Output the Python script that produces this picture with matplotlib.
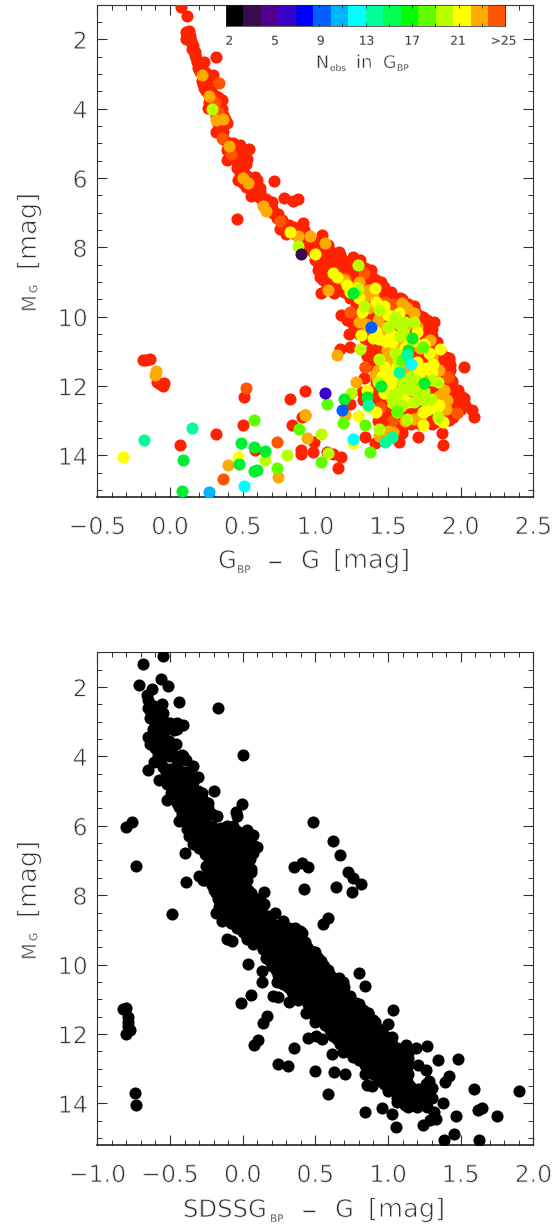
import numpy as np
import matplotlib
matplotlib.use('Agg')
import matplotlib.pyplot as plt
import matplotlib.patheffects as pe
from matplotlib.colors import ListedColormap
from matplotlib.ticker import MultipleLocator

W, H = 554, 1225
INK = '#303030'

# colour bins of the Nobs scale
bar_colors = ['#000000', '#3a0a50', '#50008c', '#3a00c8', '#0000ff', '#0060ff', '#00b4ff', '#00ffff',
              '#00ff9a', '#00ff50', '#00ff00', '#60ff00', '#b8ff00', '#ffff00', '#ffaa00', '#ff5500']
bar_labels = ['2', '5', '9', '13', '17', '21', '>25']
color_red = '#ff2200'

# top panel: GBP-G, MG per colour group
red_upper = [(.076, 1.08), (.115, 1.32), (.112, 1.78), (.138, 1.90), (.11, 2.0), (.154, 2.12), (.149, 2.29), (.172, 2.45),
             (.188, 2.64), (.234, 2.66), (.314, 2.50), (.195, 2.84), (.294, 3.03), (.229, 3.13), (.252, 3.27), (.234, 3.41),
             (.264, 3.56), (.356, 3.75), (.344, 3.94), (.264, 3.99), (.31, 3.75), (.367, 4.18), (.344, 4.33), (.39, 4.42),
             (.32, 4.66), (.367, 4.66), (.367, 4.86), (.436, 5.0), (.482, 5.05), (.544, 5.17), (.39, 5.19), (.424, 5.24),
             (.482, 5.34), (.39, 5.48), (.447, 5.48), (.528, 5.46), (.459, 5.72), (.493, 5.77), (.585, 5.96), (.47, 6.06),
             (.716, 6.08), (.505, 6.15), (.596, 6.2), (.55, 6.3), (.619, 6.39), (.555, 6.51), (.784, 6.57), (.849, 6.66),
             (.883, 6.6), (.7, 6.68), (.642, 6.73), (.711, 7.02), (.459, 7.18), (.734, 7.16), (.768, 7.21), (.913, 7.31),
             (.849, 7.4), (.757, 7.48), (.803, 7.55), (.86, 7.6), (1.044, 7.64), (.963, 7.74), (.894, 7.79), (1.09, 7.93),
             (.929, 7.98), (1.01, 7.98), (1.165, 8.14), (.52, 5.6), (.43, 5.1), (.58, 6.1), (.66, 6.85), (.79, 7.4)]
red_upper_fill = [(.13, 1.75), (.12, 1.9), (.145, 2.05), (.16, 2.2), (.17, 2.35), (.18, 2.55), (.2, 2.7), (.21, 2.95), (.24, 2.95),
                  (.22, 3.2), (.25, 3.1), (.26, 3.35), (.23, 3.3), (.25, 3.5), (.28, 3.4), (.3, 3.6), (.27, 3.8), (.33, 3.65),
                  (.34, 3.8), (.3, 3.95), (.32, 4.2), (.36, 4.0), (.33, 4.45), (.38, 4.3), (.36, 4.5), (.39, 4.95), (.41, 5.15),
                  (.44, 5.4), (.47, 5.25), (.5, 5.15), (.5, 5.4), (.47, 5.55), (.48, 5.9), (.51, 5.85), (.53, 5.95), (.52, 6.25),
                  (.57, 6.15), (.6, 6.05), (.58, 6.45), (.61, 6.55), (.62, 6.3), (.66, 6.6), (.68, 6.9), (.7, 6.85), (.72, 7.0),
                  (.74, 7.05), (.77, 7.4), (.82, 7.35), (.8, 7.6), (.84, 7.5), (.88, 7.45), (.9, 7.6), (.92, 7.5), (.93, 7.8),
                  (.96, 7.9), (1.0, 7.85), (.98, 8.1), (1.03, 8.05), (1.1, 8.1)]
red_dense = [(1.05, 8.2), (1.12, 8.15), (1.17, 8.22), (1.26, 8.27), (1.02, 8.45), (1.08, 8.5), (1.14, 8.42), (1.2, 8.5),
             (1.28, 8.55), (1.34, 8.6), (1.03, 8.85), (1.1, 8.8), (1.16, 8.75), (1.22, 8.8), (1.3, 8.85), (1.39, 8.85),
             (1.12, 9.05), (1.2, 9.04), (1.27, 9.0), (1.33, 9.05), (1.4, 9.0), (1.45, 8.99), (1.04, 9.33), (1.13, 9.31),
             (1.2, 9.3), (1.26, 9.35), (1.32, 9.3), (1.38, 9.3), (1.44, 9.35), (1.5, 9.28), (1.52, 9.3), (1.3, 9.6),
             (1.36, 9.6), (1.42, 9.62), (1.48, 9.6), (1.54, 9.55), (1.6, 9.5), (1.64, 9.62), (1.32, 9.8), (1.38, 9.85),
             (1.46, 9.8), (1.52, 9.82), (1.58, 9.78), (1.66, 9.8), (1.68, 9.75), (1.18, 9.96), (1.28, 10.0), (1.34, 10.05),
             (1.42, 10.0), (1.5, 10.02), (1.56, 9.98), (1.62, 10.0), (1.72, 9.98), (1.74, 10.02), (1.26, 10.2), (1.32, 10.22),
             (1.4, 10.18), (1.46, 10.22), (1.54, 10.2), (1.6, 10.25), (1.68, 10.2), (1.76, 10.2), (1.82, 10.15), (1.23, 10.5),
             (1.3, 10.5), (1.38, 10.45), (1.44, 10.55), (1.5, 10.5), (1.58, 10.48), (1.66, 10.52), (1.72, 10.5), (1.8, 10.55),
             (1.238, 10.88), (1.17, 10.92), (1.39, 10.8), (1.42, 10.85), (1.48, 10.8), (1.55, 10.82), (1.62, 10.78), (1.7, 10.85),
             (1.78, 10.8), (1.84, 10.72), (1.353, 11.12), (1.45, 11.1), (1.52, 11.12), (1.6, 11.08), (1.68, 11.12), (1.76, 11.1),
             (1.84, 11.08), (1.9, 11.15), (1.92, 11.2), (1.5, 11.4), (1.58, 11.42), (1.66, 11.38), (1.74, 11.4), (1.82, 11.42),
             (1.9, 11.36), (1.927, 11.39), (2.025, 11.44), (1.342, 11.46), (1.335, 11.76), (1.41, 11.68), (1.5, 11.7), (1.58, 11.72),
             (1.66, 11.68), (1.74, 11.7), (1.82, 11.72), (1.9, 11.68), (1.92, 11.75), (1.44, 12.0), (1.5, 12.02), (1.58, 11.98),
             (1.66, 12.0), (1.74, 12.02), (1.82, 12.0), (1.9, 11.98), (1.96, 12.1), (1.319, 12.16), (1.42, 12.2), (1.5, 12.22),
             (1.58, 12.18), (1.66, 12.2), (1.74, 12.22), (1.82, 12.2), (1.9, 12.18), (1.97, 12.25), (2.0, 12.3), (1.33, 12.4),
             (1.45, 12.5), (1.55, 12.48), (1.62, 12.52), (1.7, 12.5), (1.78, 12.48), (1.86, 12.52), (1.94, 12.5), (2.0, 12.45),
             (2.03, 12.55), (1.5, 12.8), (1.58, 12.78), (1.66, 12.82), (1.74, 12.8), (1.82, 12.78), (1.9, 12.82), (1.98, 12.7),
             (2.076, 12.69), (2.09, 12.88), (1.5, 13.0), (1.55, 13.02), (1.62, 13.0), (1.7, 12.98), (1.85, 13.0), (1.92, 12.98),
             (1.55, 13.2), (1.6, 13.22), (1.342, 13.46), (1.41, 13.63), (1.45, 13.55), (1.578, 13.6), (1.709, 13.46), (1.874, 13.35),
             (1.876, 13.69), (1.537, 12.98), (1.58, 13.32), (1.835, 13.02), (1.43, 13.0), (1.47, 12.75)]
# second pass over the solid red part, rows of equal MG
red_fill_mag = [8.35, 8.65, 8.95, 9.15, 9.45, 9.7, 9.9, 10.1, 10.35, 10.65, 10.95, 11.25, 11.55, 11.85, 12.1, 12.35, 12.65, 12.9,
                13.1, 13.35]
red_fill_color = [[1.0, 1.06, 1.13, 1.19, 1.25, 1.31], [1.02, 1.08, 1.14, 1.2, 1.26, 1.32, 1.38],
                  [1.05, 1.1, 1.16, 1.24, 1.3, 1.36, 1.42], [1.08, 1.14, 1.22, 1.28, 1.34, 1.4, 1.47],
                  [1.24, 1.3, 1.36, 1.42, 1.48, 1.54, 1.58], [1.28, 1.34, 1.4, 1.46, 1.52, 1.58, 1.64, 1.68],
                  [1.24, 1.3, 1.37, 1.44, 1.5, 1.56, 1.62, 1.69], [1.22, 1.3, 1.37, 1.44, 1.52, 1.6, 1.66, 1.72, 1.77],
                  [1.28, 1.34, 1.42, 1.48, 1.56, 1.62, 1.7, 1.76, 1.8], [1.34, 1.4, 1.46, 1.52, 1.6, 1.68, 1.74, 1.8],
                  [1.38, 1.44, 1.5, 1.58, 1.66, 1.74, 1.82, 1.86], [1.38, 1.48, 1.56, 1.64, 1.72, 1.8, 1.88, 1.92],
                  [1.42, 1.52, 1.6, 1.68, 1.76, 1.84, 1.93], [1.42, 1.48, 1.54, 1.62, 1.7, 1.78, 1.86, 1.94],
                  [1.38, 1.46, 1.54, 1.62, 1.7, 1.78, 1.86, 1.94, 1.98], [1.36, 1.42, 1.5, 1.58, 1.66, 1.74, 1.82, 1.9, 1.98, 2.02],
                  [1.46, 1.54, 1.62, 1.7, 1.78, 1.86, 1.94, 2.0], [1.5, 1.58, 1.66, 1.74, 1.8, 1.88, 1.95],
                  [1.48, 1.54, 1.6, 1.66, 1.72, 1.8], [1.48, 1.54, 1.6]]
red_low = [(-.188, 11.25), (-.138, 11.23), (-.087, 11.88), (-.039, 11.9), (-.05, 12.0), (.509, 12.31), (.826, 12.38),
           (.929, 12.14), (.91, 12.88), (.505, 13.11), (.842, 13.13), (.317, 13.38), (.067, 13.69), (.587, 13.85), (.904, 13.85),
           (.9, 13.97), (.986, 13.9), (.99, 13.62), (1.078, 13.9), (1.124, 13.95), (1.174, 14.04), (1.154, 14.36), (1.238, 12.52),
           (-.165, 11.26), (-.07, 11.95)]
orangered_pts = [(.339, 3.25), (.734, 13.6), (1.342, 11.46), (.523, 12.07), (.367, 14.67), (.31, 3.8), (.33, 4.1),
                 (.76, 7.25), (.36, 4.85), (.42, 5.3), (1.238, 9.86), (1.479, 9.57), (1.537, 9.62), (1.7, 11.9),
                 (1.972, 12.79), (1.537, 12.98), (1.445, 12.6), (1.91, 11.75), (.931, 12.84), (1.204, 8.89), (1.335, 8.75)]
orange_pts = [(.222, 3.02), (.271, 3.63), (.365, 4.3), (.314, 4.33), (.408, 5.08), (.505, 6.01), (.539, 6.15), (.658, 6.94),
              (.963, 7.67), (1.067, 7.88), (.883, 7.67), (.64, 6.8), (-.103, 11.68), (-.096, 11.56), (.931, 12.84), (.945, 13.51),
              (.399, 14.29), (.741, 14.62), (1.151, 11.1), (1.089, 9.23), (1.365, 9.23), (1.303, 10.14), (1.617, 10.29), (1.514, 10.72),
              (1.789, 10.67), (1.854, 11.54), (1.887, 12.12), (1.908, 12.4), (1.679, 12.95), (1.537, 13.32), (1.41, 11.68), (1.28, 11.87),
              (1.204, 12.84), (1.812, 12.64), (1.491, 10.96), (1.628, 9.76), (1.25, 9.3), (1.43, 10.1), (1.55, 11.3), (1.69, 11.6),
              (1.2, 8.95), (1.33, 9.5), (1.4, 9.4), (1.46, 10.3), (1.56, 10.6), (1.5, 11.15), (1.62, 11.5), (1.75, 11.75), (1.58, 12.6),
              (1.3, 9.0), (1.36, 9.75), (1.47, 9.9), (1.55, 9.95), (1.68, 9.9), (1.6, 9.6), (1.35, 10.2), (1.47, 10.55), (1.58, 10.8),
              (1.72, 10.9), (1.5, 11.0), (1.43, 11.55), (1.57, 11.55), (1.78, 11.55), (1.48, 12.1), (1.52, 12.35), (1.85, 12.3),
              (1.73, 12.85), (1.62, 13.0), (1.5, 13.3), (1.44, 13.45), (1.8, 11.15), (1.9, 12.65), (1.7, 10.3)]
yellow_pts = [(.826, 7.57), (.995, 8.19), (-.326, 14.06), (.47, 14.04), (1.261, 13.63), (1.296, 12.86), (1.739, 13.13), (1.124, 8.73),
              (1.858, 10.92), (1.312, 10.53), (1.399, 10.6), (1.578, 9.88), (1.41, 9.18), (1.697, 10.43), (1.525, 10.72), (1.812, 11.35),
              (1.755, 11.49), (1.502, 11.59), (1.502, 11.88), (1.766, 12.69), (1.583, 12.21), (1.628, 12.02), (1.358, 12.12), (1.417, 9.57),
              (1.22, 9.09), (1.289, 9.17), (1.44, 10.65), (1.54, 11.75), (1.83, 12.65), (1.52, 10.5), (1.85, 12.95), (1.48, 11.45), (1.72, 11.6),
              (1.15, 8.85), (1.32, 9.85), (1.47, 9.7), (1.64, 10.6), (1.78, 11.05), (1.6, 12.3), (1.68, 11.7), (1.24, 9.3), (1.3, 9.45),
              (1.5, 9.95), (1.42, 10.45), (1.62, 10.9), (1.48, 10.7), (1.46, 11.7), (1.56, 11.45), (1.52, 11.95), (1.7, 11.3), (1.8, 11.6),
              (1.64, 12.45), (1.56, 12.45), (1.74, 12.75), (1.88, 13.05), (1.36, 12.6), (1.42, 12.75), (1.75, 10.8), (1.85, 12.55),
              (1.68, 10.7), (1.47, 12.2)]
limegreen_pts = [(.287, 4.0), (.883, 7.95), (1.291, 8.51), (1.307, 10.93), (1.436, 11.22), (1.337, 9.68), (1.44, 9.81), (1.245, 12.19),
                 (1.438, 13.24), (1.628, 12.96), (1.037, 13.39), (.807, 13.99), (.656, 14.12), (1.089, 13.94), (1.679, 10.14), (1.537, 10.14),
                 (1.583, 10.24), (1.605, 10.38), (1.502, 10.29), (1.548, 11.06), (1.571, 11.25), (1.651, 11.73), (1.674, 11.97), (1.605, 12.02),
                 (1.72, 12.16), (1.743, 12.4), (1.801, 11.83), (1.846, 11.89), (1.537, 12.5), (1.6, 12.55), (1.564, 12.74), (1.846, 12.88),
                 (1.434, 11.89), (1.794, 12.36), (1.709, 12.31), (1.56, 12.2), (1.65, 12.1), (1.291, 9.2), (1.55, 10.0), (1.62, 10.15),
                 (1.58, 10.55), (1.7, 11.85), (1.6, 11.85), (1.75, 12.15), (1.68, 12.45), (1.53, 12.3)]
green_pts = [(.58, 12.97), (.734, 14.35), (.885, 13.25), (1.039, 14.18), (1.344, 13.12), (1.193, 13.06), (1.083, 12.53), (1.376, 13.91),
             (1.743, 10.87), (1.6, 11.25), (1.56, 12.72)]
pure_green_pts = [(.486, 13.63), (.578, 13.75), (.651, 13.87), (.087, 14.13), (.083, 15.03), (.58, 14.46), (.6, 14.42), (.477, 14.26),
                  (1.197, 12.38), (1.353, 12.31), (1.261, 9.31), (1.667, 10.61), (1.635, 10.96), (1.748, 11.92), (1.452, 11.99)]
teal_pts = [(-.179, 13.57), (.151, 13.22), (1.365, 12.55), (1.479, 13.61), (1.525, 13.46), (1.578, 11.6), (1.633, 11.1)]
cyan_pts = [(.511, 14.88), (1.261, 13.53), (1.656, 11.35)]
skyblue_pts = [(.266, 15.05)]
blue_pts = [(1.186, 12.7), (1.383, 10.29)]
indigo_pts = [(1.064, 12.21)]
purple_pts = [(.901, 8.18)]

# bottom panel: SDSS GBP-G, MG
sdss_isolated = [(-.546, 1.1), (-.683, 1.34), (-.711, 1.93), (-.564, 1.77), (-.511, 1.98), (-.626, 2.05), (-.656, 2.22), (-.65, 2.37),
                 (-.438, 2.43), (-.172, 2.61), (-.557, 2.49), (-.805, 6.04), (-.759, 5.88), (-.734, 7.17), (-.397, 6.79), (-.392, 7.63),
                 (-.486, 8.55), (-.649, 4.38), (-.576, 4.68), (0, 3.96), (-.197, 4.99), (-.305, 4.6), (-.339, 4.29), (-.002, 5.38),
                 (-.046, 5.59), (-.041, 5.73), (-.064, 6.02), (-.179, 5.73), (-.236, 5.49), (.486, 5.9), (.619, 6.45), (.67, 6.84),
                 (.356, 7.19), (.406, 7.08), (.447, 7.2), (.422, 7.83), (.642, 7.75), (.727, 7.34), (.761, 7.51), (.814, 7.68),
                 (.755, 7.9), (.147, 7.92), (.147, 8.26), (.073, 6.79), (.069, 6.26), (.028, 6.12), (.555, 8.83), (.589, 8.66),
                 (.222, 8.52), (.275, 8.74), (.36, 8.95), (.394, 9.02), (-.11, 9.25), (-.076, 9.33), (.034, 9.97), (.135, 10.18),
                 (.131, 10.5), (.234, 10.5), (.055, 10.88), (-.014, 11.12), (.211, 10.9), (.245, 10.93), (.321, 11.08), (.383, 11.03),
                 (.17, 11.48), (.142, 11.67), (.436, 11.39), (.498, 11.65), (.108, 12.18), (.078, 12.33), (.353, 12.39), (.452, 12.13),
                 (.505, 12.07), (.548, 12.15), (.245, 12.86), (.314, 12.92), (.495, 13.07), (.628, 13.1), (.704, 13.16), (.612, 12.57),
                 (.693, 12.52), (.773, 12.6), (.587, 13.74), (.842, 13.14), (.853, 13.48), (.888, 13.5), (.839, 14.26), (.961, 14.12),
                 (1.025, 14.3), (1.055, 14.68), (.8, 10.23), (.839, 10.62), (1.032, 11.31), (.998, 11.7), (.865, 11.41), (1.122, 12.31),
                 (1.19, 12.39), (1.271, 12.35), (1.342, 12.76), (1.479, 12.71), (1.209, 12.88), (1.261, 13.05), (1.422, 13.21), (1.392, 13.38),
                 (1.592, 13.58), (1.904, 13.64), (1.376, 14.0), (1.468, 14.35), (1.243, 14.61), (1.33, 14.44), (1.289, 14.49), (1.622, 14.2),
                 (1.644, 14.13), (1.752, 14.35), (1.388, 15.06), (1.454, 14.89), (1.624, 15.06), (-.803, 11.25), (-.82, 11.27), (-.791, 11.51),
                 (-.791, 11.65), (-.79, 11.78), (-.775, 11.89), (-.803, 11.99), (-.743, 13.7), (-.736, 14.06)]
sdss_band = [(-.65, 2.6), (-.61, 2.55), (-.57, 2.65), (-.64, 2.9), (-.6, 3.0), (-.55, 2.95), (-.5, 3.05), (-.45, 3.05), (-.41, 3.1),
             (-.65, 3.45), (-.6, 3.5), (-.55, 3.4), (-.51, 3.55), (-.47, 3.25), (-.6, 3.75), (-.55, 3.8), (-.5, 3.7), (-.61, 4.15),
             (-.56, 4.1), (-.51, 4.0), (-.46, 4.05), (-.41, 3.98), (-.39, 4.1), (-.55, 4.3), (-.5, 4.35), (-.45, 4.25), (-.52, 4.6),
             (-.47, 4.55), (-.42, 4.65), (-.37, 4.5), (-.52, 4.8), (-.47, 4.9), (-.42, 4.95), (-.37, 4.85), (-.31, 5.0), (-.52, 5.25),
             (-.47, 5.15), (-.42, 5.25), (-.36, 5.2), (-.3, 5.15), (-.27, 5.25), (-.44, 5.45), (-.39, 5.5), (-.33, 5.45), (-.27, 5.55),
             (-.44, 5.85), (-.39, 5.8), (-.34, 5.9), (-.28, 5.75), (-.38, 6.1), (-.33, 6.0), (-.27, 6.1), (-.21, 6.0), (-.15, 6.05),
             (-.11, 6.0), (-.37, 6.3), (-.31, 6.25), (-.25, 6.3), (-.19, 6.2), (-.13, 6.3), (-.34, 6.52), (-.28, 6.55), (-.21, 6.5),
             (-.15, 6.55), (-.08, 6.45), (-.03, 6.5), (.02, 6.45), (.07, 6.55), (.1, 6.62), (-.26, 6.8), (-.2, 6.85), (-.14, 6.8),
             (-.08, 6.85), (-.02, 6.8), (.04, 6.75), (-.25, 7.15), (-.19, 7.05), (-.13, 7.1), (-.07, 7.05), (-.01, 7.1), (.04, 7.05),
             (.06, 7.25), (-.3, 7.45), (-.24, 7.4), (-.18, 7.35), (-.12, 7.45), (-.06, 7.4), (0, 7.35), (.06, 7.32), (-.26, 7.55),
             (-.21, 7.7), (-.15, 7.65), (-.09, 7.7), (-.04, 7.6), (-.18, 7.95), (-.12, 8.0), (-.06, 7.95), (0, 8.0), (.02, 7.85),
             (.06, 7.95), (-.15, 8.2), (-.09, 8.25), (-.03, 8.2), (.03, 8.25), (.08, 8.2), (.12, 8.15), (-.18, 8.5), (-.12, 8.55),
             (-.06, 8.45), (0, 8.55), (.06, 8.5), (.12, 8.55), (.18, 8.6), (-.14, 8.75), (-.08, 8.8), (-.02, 8.85), (.04, 8.8),
             (.1, 8.85), (.16, 8.8), (.22, 8.85), (.28, 8.95), (0, 9.05), (.05, 9.1), (.11, 9.05), (.17, 9.1), (.23, 9.05), (.29, 9.1),
             (.35, 9.05), (.41, 9.1), (.03, 9.25), (.09, 9.3), (.15, 9.25), (.21, 9.3), (.27, 9.25), (.33, 9.3), (.39, 9.25), (.43, 9.35),
             (.14, 9.55), (.2, 9.5), (.26, 9.55), (.32, 9.5), (.38, 9.55), (.44, 9.5), (.47, 9.6), (.16, 9.8), (.22, 9.75), (.28, 9.8),
             (.34, 9.75), (.4, 9.8), (.46, 9.75), (.52, 9.8), (.2, 10.05), (.26, 10.0), (.32, 10.05), (.38, 10.0), (.44, 10.05), (.5, 10.0),
             (.56, 10.05), (.59, 10.15), (.24, 10.3), (.3, 10.25), (.36, 10.3), (.42, 10.25), (.48, 10.3), (.54, 10.25), (.6, 10.3),
             (.28, 10.55), (.34, 10.5), (.4, 10.55), (.46, 10.5), (.52, 10.55), (.58, 10.5), (.64, 10.55), (.69, 10.5), (.34, 10.8),
             (.4, 10.75), (.46, 10.8), (.52, 10.75), (.58, 10.8), (.64, 10.75), (.7, 10.8), (.44, 11.05), (.5, 11.0), (.56, 11.05),
             (.62, 11.0), (.68, 11.05), (.74, 11.0), (.78, 11.1), (.47, 11.3), (.53, 11.25), (.59, 11.3), (.65, 11.25), (.71, 11.3),
             (.77, 11.25), (.83, 11.3), (.5, 11.5), (.56, 11.5), (.62, 11.55), (.68, 11.5), (.74, 11.55), (.8, 11.5), (.86, 11.55),
             (.9, 11.6), (.57, 11.75), (.63, 11.8), (.69, 11.75), (.75, 11.8), (.81, 11.75), (.87, 11.8), (.93, 11.85), (.62, 12.05),
             (.68, 12.0), (.74, 12.05), (.8, 12.0), (.86, 12.05), (.92, 12.0), (.98, 12.05), (1.03, 12.1), (.67, 12.3), (.73, 12.25),
             (.79, 12.3), (.85, 12.25), (.91, 12.3), (.97, 12.25), (1.03, 12.3), (.72, 12.5), (.78, 12.55), (.84, 12.5), (.9, 12.55),
             (.96, 12.5), (1.02, 12.55), (1.08, 12.5), (1.14, 12.55), (.8, 12.75), (.86, 12.8), (.92, 12.75), (.98, 12.8), (1.04, 12.75),
             (1.1, 12.8), (1.14, 12.7), (.86, 13.0), (.92, 13.05), (.98, 13.0), (1.04, 13.05), (1.1, 13.0), (.93, 13.25), (.99, 13.3),
             (1.05, 13.25), (.97, 13.45), (1.03, 13.5), (1.09, 13.45), (1.15, 13.5), (1.0, 13.65), (1.06, 13.7), (1.12, 13.65), (1.18, 13.7),
             (1.26, 13.45), (1.3, 13.55), (1.06, 13.95), (1.12, 13.9), (1.18, 13.95), (1.24, 13.9), (1.3, 13.85), (1.12, 14.05), (1.25, 14.05),
             (1.32, 14.25)]
# second pass over the solid black part, rows of equal MG
sdss_fill_mag = [2.75, 3.2, 3.65, 3.95, 4.45, 4.75, 5.05, 5.35, 5.65, 5.95, 6.15, 6.4, 6.65, 6.95, 7.25, 7.55, 7.85, 8.1, 8.35, 8.65,
                 8.95, 9.15, 9.4, 9.65, 9.9, 10.15, 10.4, 10.65, 10.9, 11.15, 11.4, 11.65, 11.9, 12.15, 12.4, 12.65, 12.9, 13.15,
                 13.35, 13.6, 13.85, 14.1]
sdss_fill_color = [[-.63, -.59, -.55], [-.62, -.57, -.52, -.45], [-.64, -.58, -.52, -.46], [-.58, -.53, -.47, -.42],
                   [-.53, -.47, -.41, -.38], [-.49, -.44, -.39, -.34], [-.49, -.44, -.39, -.34, -.28], [-.45, -.4, -.35, -.3, -.24],
                   [-.42, -.37, -.32, -.26, -.21], [-.37, -.31, -.25], [-.35, -.29, -.23, -.17, -.1, -.04, .03],
                   [-.31, -.25, -.18, -.11, -.05, .01, .05], [-.3, -.24, -.17, -.11, -.05, .01, .06], [-.23, -.17, -.11, -.05, .01, .05],
                   [-.22, -.16, -.1, -.04, .02], [-.27, -.18, -.12, -.07, -.01, .03], [-.2, -.14, -.08, -.03, .04],
                   [-.17, -.11, -.05, .01, .05, .1], [-.16, -.1, -.04, .02, .07, .13], [-.11, -.05, .01, .07, .13, .19],
                   [-.04, .02, .08, .14, .2, .26, .32], [.02, .08, .14, .2, .26, .32, .38], [.07, .13, .19, .25, .31, .37, .42],
                   [.17, .23, .29, .35, .41, .47, .5], [.19, .25, .31, .37, .43, .49, .54], [.23, .29, .35, .41, .47, .53, .58],
                   [.26, .32, .38, .44, .5, .56, .62, .66], [.31, .37, .43, .49, .55, .61, .67, .7], [.39, .45, .51, .57, .63, .69, .74],
                   [.45, .51, .57, .63, .69, .75, .8], [.5, .56, .62, .68, .74, .8, .86], [.55, .61, .67, .73, .79, .85, .91],
                   [.6, .66, .72, .78, .84, .9, .96], [.65, .71, .77, .83, .89, .95, 1.0], [.7, .76, .82, .88, .94, 1.0, 1.06, 1.12],
                   [.76, .82, .88, .94, 1.0, 1.06, 1.12], [.84, .9, .96, 1.02, 1.08, 1.14], [.9, .96, 1.02, 1.08, 1.14],
                   [.95, 1.01, 1.07, 1.13, 1.28], [1.03, 1.09, 1.15, 1.21, 1.27], [1.06, 1.12, 1.18, 1.24], [1.14, 1.2, 1.27]]


def pts_xy(pts):
    return [p[0] for p in pts], [p[1] for p in pts]


def rows_to_pts(mags, colors):
    pts = []
    for m, row in zip(mags, colors):
        for c in row:
            pts.append((c, m))
    return pts


def thin(size):
    # the reference lettering is a hairline vector font, so shave the glyph outlines
    return [pe.Normal(), pe.Stroke(linewidth=size * 0.036, foreground='white')]


def setup_panel(ax, xlim, xticks, xlabels):
    ax.set_xlim(*xlim)
    ax.set_ylim(15.2, 1.0)
    ax.set_xticks(xticks)
    ax.set_xticklabels(xlabels)
    ax.set_yticks([2, 4, 6, 8, 10, 12, 14])
    ax.xaxis.set_minor_locator(MultipleLocator(0.1))
    ax.yaxis.set_minor_locator(MultipleLocator(0.5))
    ax.tick_params(which='major', direction='in', top=True, right=True, length=7, width=0.8, color=INK,
                   labelsize=17, labelcolor=INK)
    ax.tick_params(axis='x', which='major', pad=13)
    ax.tick_params(axis='y', which='major', pad=7)
    ax.tick_params(which='minor', direction='in', top=True, right=True, length=3.5, width=0.7, color=INK)
    for side in ax.spines:
        ax.spines[side].set_linewidth(0.8)
        ax.spines[side].set_color(INK)
    ax.spines['bottom'].set_linewidth(1.1)
    ax.spines['bottom'].set_color('#111111')
    for lab in ax.get_xticklabels() + ax.get_yticklabels():
        lab.set_path_effects(thin(17))


def px_text(x, y, s, size=17.5, **kw):
    # x, y in image pixels, y counted from the top, anchored on the baseline
    fig.text(x / W, 1 - y / H, s, fontsize=size, color=INK, va='baseline', path_effects=thin(size), **kw)


def y_label(dy):
    rot = dict(rotation=90, rotation_mode='anchor', ha='left')
    px_text(36, 312 + dy, 'M', size=14, **rot)
    px_text(37, 293 + dy, 'G', size=7.5, **rot)
    px_text(36, 270 + dy, '[mag]', size=18.5, **rot)


fig = plt.figure(figsize=(W / 100, H / 100), dpi=100)
ax1 = fig.add_axes([97.3 / W, 1 - 497 / H, 436 / W, 492.3 / H])
ax2 = fig.add_axes([97.3 / W, 1 - 1145 / H, 436 / W, 492.7 / H])

DOT = 76
red_fill = rows_to_pts(red_fill_mag, red_fill_color)
sdss_fill = rows_to_pts(sdss_fill_mag, sdss_fill_color)
top_groups = [(red_upper, color_red), (red_upper_fill, color_red), (red_dense, color_red), (red_fill, color_red),
              (red_low, color_red), (orangered_pts, bar_colors[15]), (orange_pts, bar_colors[14]), (yellow_pts, bar_colors[13]),
              (limegreen_pts, bar_colors[12]), (green_pts, bar_colors[11]), (pure_green_pts, '#00f030'), (teal_pts, bar_colors[8]),
              (cyan_pts, bar_colors[7]), (skyblue_pts, bar_colors[6]), (blue_pts, bar_colors[5]), (indigo_pts, bar_colors[3]),
              (purple_pts, bar_colors[1])]
for pts, col in top_groups:
    xs, ys = pts_xy(pts)
    ax1.scatter(xs, ys, s=DOT, color=col, linewidths=0, zorder=3)
setup_panel(ax1, (-0.5, 2.5), [-0.5, 0, 0.5, 1, 1.5, 2, 2.5], ['\u22120.5', '0.0', '0.5', '1.0', '1.5', '2.0', '2.5'])

for pts in (sdss_band, sdss_fill, sdss_isolated):
    xs, ys = pts_xy(pts)
    ax2.scatter(xs, ys, s=DOT, color='black', linewidths=0, zorder=3)
setup_panel(ax2, (-1, 2), [-1, -0.5, 0, 0.5, 1, 1.5, 2], ['\u22121.0', '\u22120.5', '0.0', '0.5', '1.0', '1.5', '2.0'])

# Nobs colour bar
cax = fig.add_axes([226 / W, 1 - 25.7 / H, 279 / W, 20.4 / H])
cax.imshow([np.arange(len(bar_colors))], cmap=ListedColormap(bar_colors), aspect='auto', extent=(0, 1, 0, 1),
           interpolation='nearest')
cax.set_yticks([])
cax.set_xticks(np.linspace(0.012, 0.995, 7))
cax.set_xticklabels(bar_labels, fontsize=8.8, color='#222222')
cax.xaxis.set_minor_locator(MultipleLocator(1 / 12))
cax.tick_params(axis='x', which='major', direction='in', length=0, pad=6.5)
cax.tick_params(axis='x', which='minor', direction='in', length=2, width=0.6, top=True, color='#222222')
for lab in cax.get_xticklabels():
    lab.set_path_effects(thin(6))
for side in cax.spines:
    cax.spines[side].set_linewidth(0.5)
    cax.spines[side].set_color('#222222')

# colour bar title
px_text(316, 68, 'N', size=12.5)
px_text(330, 71, 'obs', size=6.5)
px_text(356, 68, 'in', size=13)
px_text(383, 68, 'G', size=12.5)
px_text(397, 71, 'BP', size=6.5)

# axis titles
px_text(218, 568, 'G')
px_text(237, 573, 'BP', size=7.5)
px_text(267, 568, '\u2212', size=14)
px_text(301, 568, 'G')
px_text(333, 568, '[mag]', size=18.5)
px_text(183, 1217, 'SDSSG')
px_text(270, 1222, 'BP', size=7.5)
px_text(301, 1217, '\u2212', size=14)
px_text(335, 1217, 'G')
px_text(368, 1217, '[mag]', size=18.5)
y_label(0)
y_label(648)

fig.savefig('out.png', dpi=100)
